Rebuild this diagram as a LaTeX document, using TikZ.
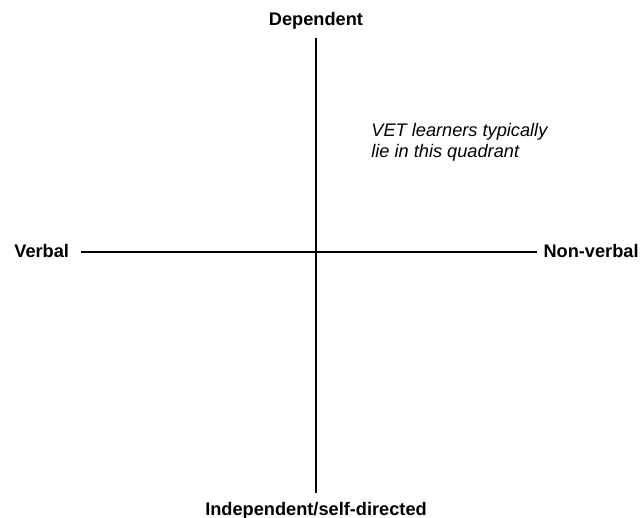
\documentclass[tikz,border=0pt]{standalone}
\usepackage{fontspec}
\setmainfont{Liberation Sans}
\begin{document}
\begin{tikzpicture}[x=0.5pt,y=-0.5pt,
  axislabel/.style={font=\fontsize{9.1}{11}\selectfont\bfseries, inner sep=0pt},
  note/.style={font=\fontsize{9.1}{10.5}\selectfont\itshape, inner sep=0pt, align=left},
  axisline/.style={line width=0.8pt, black}]
\useasboundingbox (0,0) rectangle (641,518);
% Ends of the two axes
\coordinate (top) at (316,38);
\coordinate (bottom) at (316,493);
\coordinate (left) at (81,252);
\coordinate (right) at (537,252);
% Draw axes
\draw[axisline] (top) -- (bottom);
\draw[axisline] (left) -- (right);
% Axis labels
\node[axislabel, anchor=base] (dependent) at (316,26) {Dependent};
\node[axislabel, anchor=base] (independent) at (316,515) {Independent/self-directed};
\node[axislabel, anchor=base west] (verbal) at (14,257) {Verbal};
\node[axislabel, anchor=base east] (nonverbal) at (639,257) {Non-verbal};
% Note in the upper right quadrant
\node[note, anchor=north west] (quadrant) at (371,123) {VET learners typically\\lie in this quadrant};
\end{tikzpicture}
\end{document}
